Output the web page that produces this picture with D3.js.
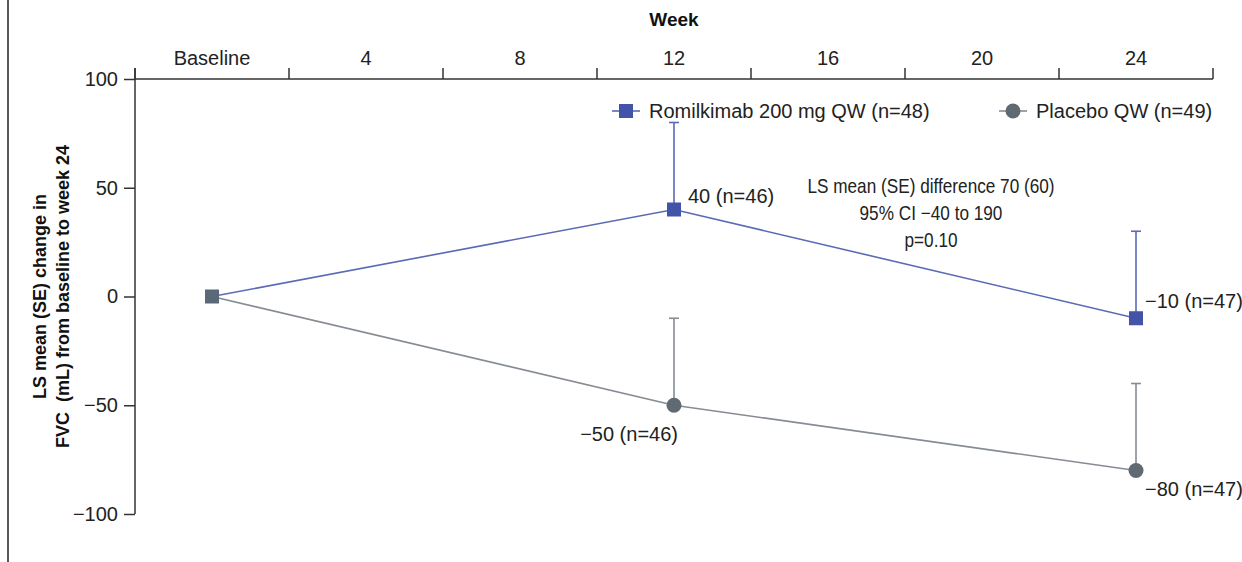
<!DOCTYPE html>
<html>
<head>
<meta charset="utf-8">
<script src="https://cdn.jsdelivr.net/npm/d3@7"></script>
<style>
  html, body { margin: 0; padding: 0; background: #fff; }
  svg { display: block; font-family: "Liberation Sans", Arial, Helvetica, sans-serif; }
</style>
</head>
<body>
<svg id="chart" width="1242" height="562"></svg>
<script>
// Visit schedule shown on the top axis
const weeks = ["Baseline", "4", "8", "12", "16", "20", "24"];
const yTicks = [-100, -50, 0, 50, 100];

// Visits with measurements
const visits = ["Baseline", "12", "24"];

// Romilkimab 200 mg QW: LS mean change and upper SE bound
const romMean = [0, 40, -10];
const romUpper = [null, 80, 30];
const romN = [null, 46, 47];

// Placebo QW: LS mean change and upper SE bound
const plaMean = [0, -50, -80];
const plaUpper = [null, -10, -40];
const plaN = [null, 46, 47];

const legendLabels = ["Romilkimab 200 mg QW (n=48)", "Placebo QW (n=49)"];
const diffLines = ["LS mean (SE) difference 70 (60)", "95% CI \u221240 to 190", "p=0.10"];

const svg = d3.select("#chart");
const W = 1242, H = 562;
const plotLeft = 135, plotRight = 1213, plotTop = 79, plotBottom = 514;

const x = d3.scaleBand().domain(weeks).range([plotLeft, plotRight]).padding(0);
const y = d3.scaleLinear().domain([-100, 100]).range([plotBottom, plotTop]);
const cx = d => x(d) + x.bandwidth() / 2;

const axisColor = "#333";
const blue = "#4354a8", blueLine = "#5b6ab4";
const grey = "#5f6a73", greyLine = "#858c93";
const minus = v => (v < 0 ? "\u2212" + Math.abs(v) : String(v));

// Frame line on the left edge
svg.append("line").attr("x1", 8).attr("x2", 8).attr("y1", 0).attr("y2", H)
  .attr("stroke", "#222").attr("stroke-width", 1.5);

// Top axis: ticks on the band edges, labels at band centres
const edges = weeks.map(w => x(w)).concat([plotRight]);
const topAxis = svg.append("g");
topAxis.append("line").attr("x1", plotLeft).attr("x2", plotRight).attr("y1", plotTop).attr("y2", plotTop)
  .attr("stroke", axisColor).attr("stroke-width", 1.5);
topAxis.selectAll("line.tick").data(edges).join("line").attr("class", "tick")
  .attr("x1", d => d).attr("x2", d => d).attr("y1", plotTop).attr("y2", plotTop - 11)
  .attr("stroke", axisColor).attr("stroke-width", 1.5);
topAxis.selectAll("text").data(weeks).join("text")
  .attr("x", d => cx(d)).attr("y", 65).attr("text-anchor", "middle")
  .attr("font-size", 20).attr("fill", "#222").text(d => d);
svg.append("text").attr("x", (plotLeft + plotRight) / 2).attr("y", 26).attr("text-anchor", "middle")
  .attr("font-size", 19).attr("font-weight", "bold").attr("fill", "#111").text("Week");

// Left axis
const yAxis = d3.axisLeft(y).tickValues(yTicks).tickSize(11).tickPadding(6).tickFormat(minus);
const gy = svg.append("g").attr("transform", `translate(${plotLeft},0)`).call(yAxis);
gy.select(".domain").remove();
gy.selectAll(".tick line").attr("stroke", axisColor).attr("stroke-width", 1.5);
gy.selectAll(".tick text").attr("font-size", 20).attr("fill", "#222")
  .attr("font-family", "Liberation Sans, Arial, sans-serif");
svg.append("line").attr("x1", plotLeft).attr("x2", plotLeft).attr("y1", plotTop - 11).attr("y2", plotBottom)
  .attr("stroke", axisColor).attr("stroke-width", 1.5);

// Y axis title (two lines)
const yt = svg.append("text").attr("transform", `translate(0,${(plotTop + plotBottom) / 2}) rotate(-90)`)
  .attr("text-anchor", "middle").attr("font-size", 18).attr("font-weight", "bold").attr("fill", "#111");
yt.append("tspan").attr("x", 0).attr("y", 46).text("LS mean (SE) change in");
yt.append("tspan").attr("x", 0).attr("y", 69).attr("xml:space", "preserve").text("FVC  (mL) from baseline to week 24");

const line = d3.line().x(d => cx(d.v)).y(d => y(d.m));

function series(mean, upper, n, lineColor) {
  const pts = visits.map((v, i) => ({ v, m: mean[i], u: upper[i], n: n[i] }));
  svg.append("path").datum(pts).attr("d", line).attr("fill", "none")
    .attr("stroke", lineColor).attr("stroke-width", 1.6);
  const eb = pts.filter(d => d.u !== null);
  svg.selectAll(null).data(eb).join("line")
    .attr("x1", d => cx(d.v)).attr("x2", d => cx(d.v))
    .attr("y1", d => y(d.m)).attr("y2", d => y(d.u))
    .attr("stroke", lineColor).attr("stroke-width", 1.6);
  svg.selectAll(null).data(eb).join("line")
    .attr("x1", d => cx(d.v) - 5).attr("x2", d => cx(d.v) + 5)
    .attr("y1", d => y(d.u)).attr("y2", d => y(d.u))
    .attr("stroke", lineColor).attr("stroke-width", 1.6);
  return pts;
}

const pla = series(plaMean, plaUpper, plaN, greyLine);
const rom = series(romMean, romUpper, romN, blueLine);

// Markers
svg.selectAll(null).data(pla.slice(1)).join("circle")
  .attr("cx", d => cx(d.v)).attr("cy", d => y(d.m)).attr("r", 7.5).attr("fill", grey);
svg.selectAll(null).data(rom.slice(1)).join("rect")
  .attr("x", d => cx(d.v) - 7).attr("y", d => y(d.m) - 7).attr("width", 14).attr("height", 14).attr("fill", blue);
svg.append("rect").attr("x", cx(visits[0]) - 7).attr("y", y(romMean[0]) - 7)
  .attr("width", 14).attr("height", 14).attr("fill", "#5b6878");

// Value labels
const lab = d => `${minus(d.m)} (n=${d.n})`;
svg.append("text").attr("x", cx("12") + 14).attr("y", y(rom[1].m) - 7)
  .attr("font-size", 20).attr("fill", "#222").text(lab(rom[1]));
svg.append("text").attr("x", cx("24") + 9).attr("y", y(rom[2].m) - 10)
  .attr("font-size", 20).attr("fill", "#222").text(lab(rom[2]));
svg.append("text").attr("x", cx("12") + 4).attr("y", y(pla[1].m) + 36).attr("text-anchor", "end")
  .attr("font-size", 20).attr("fill", "#222").text(lab(pla[1]));
svg.append("text").attr("x", cx("24") + 9).attr("y", y(pla[2].m) + 25)
  .attr("font-size", 20).attr("fill", "#222").text(lab(pla[2]));

// Treatment difference annotation, set slightly condensed
const ann = svg.append("g").attr("transform", "translate(931,0) scale(0.86,1)")
  .append("text").attr("text-anchor", "middle").attr("font-size", 20).attr("fill", "#222");
diffLines.forEach((t, i) => ann.append("tspan").attr("x", 0).attr("y", 193 + i * 27).text(t));

// Legend
const legend = svg.append("g");
const legItems = [
  { label: legendLabels[0], x: 612, color: blueLine, mark: blue, shape: "square" },
  { label: legendLabels[1], x: 999, color: greyLine, mark: grey, shape: "circle" }
];
legItems.forEach(it => {
  const g = legend.append("g").attr("transform", `translate(${it.x},111)`);
  g.append("line").attr("x1", 0).attr("x2", 28).attr("stroke", it.color).attr("stroke-width", 1.6);
  if (it.shape === "square") g.append("rect").attr("x", 7).attr("y", -7).attr("width", 14).attr("height", 14).attr("fill", it.mark);
  else g.append("circle").attr("cx", 14).attr("cy", 0).attr("r", 7.5).attr("fill", it.mark);
  g.append("text").attr("x", 37).attr("y", 7).attr("font-size", 20).attr("fill", "#222").text(it.label);
});
</script>
</body>
</html>
